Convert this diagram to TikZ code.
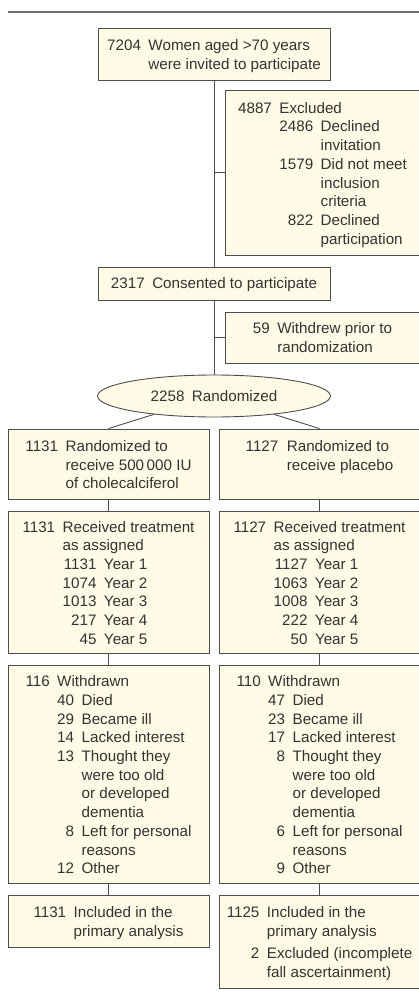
\documentclass[tikz,border=0pt]{standalone}
\usepackage{fontspec}
\setmainfont{Liberation Sans}
\usetikzlibrary{shapes.geometric}
\definecolor{boxfill}{HTML}{FFFBE6}
\definecolor{boxline}{HTML}{4D4D4D}
\definecolor{txtcol}{HTML}{333333}
\definecolor{rulecol}{HTML}{6E6E6E}
\newcommand{\gp}{\hspace{7.5pt}}
\newcommand{\dn}[2][2.5pt]{\raisebox{-#1}[\height][\depth]{#2}}
\begin{document}
\begin{tikzpicture}[x=1pt,y=-1pt,
  box/.style={draw=boxline, fill=boxfill, line width=0.9pt, inner sep=0pt,
    text=txtcol, font=\fontsize{15.2}{18.7}\selectfont},
  conn/.style={draw=boxline, line width=0.9pt}]
\useasboundingbox (0,0) rectangle (418,1000);
\fill[white] (0,0) rectangle (418,1000);
\coordinate (ruleL) at (8,12);
\coordinate (ruleR) at (420,12);
\draw[rulecol, line width=1.3pt] (ruleL) -- (ruleR);

\node[box, minimum width=232pt, minimum height=52pt] (b1) at (214,54)
  {\dn{\begin{tabular}{@{}r@{\gp}l@{}}7204 & Women aged >70 years\\ & were invited to participate\end{tabular}}};

\node[box, minimum width=195pt, minimum height=165pt] (excl) at (322.5,172.5)
  {\dn{\begin{tabular}{@{}r@{\gp}r@{\gp}l@{}}
   4887 & \multicolumn{2}{@{}l@{}}{Excluded}\\
   & 2486 & Declined\\
   & & invitation\\
   & 1579 & Did not meet\\
   & & inclusion\\
   & & criteria\\
   & 822 & Declined\\
   & & participation
   \end{tabular}}};

\node[box, minimum width=232pt, minimum height=33pt] (cons) at (214,283.5)
  {\dn[1pt]{\begin{tabular}{@{}r@{\gp}l@{}}2317 & Consented to participate\end{tabular}}};

\node[box, minimum width=195pt, minimum height=51pt] (wd) at (322.5,337.5)
  {\dn[1.5pt]{\begin{tabular}{@{}r@{\gp}l@{}}59 & Withdrew prior to\\ & randomization\end{tabular}}};

\node[box, ellipse, minimum width=233pt, minimum height=42pt] (rand) at (214,396)
  {\dn[0.5pt]{2258\gp Randomized}};

\node[box, minimum width=201pt, minimum height=70pt] (L1) at (108.5,464)
  {\dn{\begin{tabular}{@{}r@{\gp}l@{}}1131 & Randomized to\\ & receive 500\,000 IU\\ & of cholecalciferol\end{tabular}}};
\node[box, minimum width=201pt, minimum height=70pt] (R1) at (319.5,464)
  {\dn{\begin{tabular}{@{}r@{\hspace{8.5pt}}l@{}}1127 & Randomized to\\ & receive placebo\\ & \mbox{}\end{tabular}}};

\node[box, minimum width=201pt, minimum height=142pt] (L2) at (108.5,582)
  {\dn{\begin{tabular}{@{}r@{\gp}r@{\gp}l@{}}
   1131 & \multicolumn{2}{@{}l@{}}{Received treatment}\\
   & \multicolumn{2}{@{}l@{}}{as assigned}\\
   & 1131 & Year 1\\
   & 1074 & Year 2\\
   & 1013 & Year 3\\
   & 217 & Year 4\\
   & 45 & Year 5
   \end{tabular}}};
\node[box, minimum width=201pt, minimum height=142pt] (R2) at (319.5,582)
  {\dn{\begin{tabular}{@{}r@{\gp}r@{\gp}l@{}}
   1127 & \multicolumn{2}{@{}l@{}}{Received treatment}\\
   & \multicolumn{2}{@{}l@{}}{as assigned}\\
   & 1127 & Year 1\\
   & 1063 & Year 2\\
   & 1008 & Year 3\\
   & 222 & Year 4\\
   & 50 & Year 5
   \end{tabular}}};

\node[box, minimum width=201pt, minimum height=218pt] (L3) at (108.5,774)
  {\dn{\begin{tabular}{@{}r@{\gp}r@{\gp}l@{}}
   116 & \multicolumn{2}{@{}l@{}}{Withdrawn}\\
   & 40 & Died\\
   & 29 & Became ill\\
   & 14 & Lacked interest\\
   & 13 & Thought they\\
   & & were too old\\
   & & or developed\\
   & & dementia\\
   & 8 & Left for personal\\
   & & reasons\\
   & 12 & Other
   \end{tabular}}};
\node[box, minimum width=201pt, minimum height=218pt] (R3) at (319.5,774)
  {\dn{\begin{tabular}{@{}r@{\gp}r@{\gp}l@{}}
   110 & \multicolumn{2}{@{}l@{}}{Withdrawn}\\
   & 47 & Died\\
   & 23 & Became ill\\
   & 17 & Lacked interest\\
   & 8 & Thought they\\
   & & were too old\\
   & & or developed\\
   & & dementia\\
   & 6 & Left for personal\\
   & & reasons\\
   & 9 & Other
   \end{tabular}}};

\node[box, minimum width=201pt, minimum height=52pt] (L4) at (108.5,921)
  {\dn{\begin{tabular}{@{}r@{\gp}l@{}}1131 & Included in the\\ & primary analysis\end{tabular}}};
\node[box, minimum width=201pt, minimum height=93pt] (R4) at (319.5,941.5)
  {\dn{\begin{tabular}{@{}r@{\gp}l@{}}1125 & Included in the\\ & primary analysis\\[3.5pt] 2 & Excluded (incomplete\\ & fall ascertainment)\end{tabular}}};

% connectors
\draw[conn] (b1.south) -- (cons.north);
\draw[conn] (b1.south |- excl.west) -- (excl.west);
\draw[conn] (cons.south) -- (rand.north);
\draw[conn] (cons.south |- wd.west) -- (wd.west);
\draw[conn] (rand.197) -- (L1.north);
\draw[conn] (rand.343) -- (R1.north);
\draw[conn] (L1.south) -- (L2.north);
\draw[conn] (R1.south) -- (R2.north);
\draw[conn] (L2.south) -- (L3.north);
\draw[conn] (R2.south) -- (R3.north);
\draw[conn] (L3.south) -- (L4.north);
\draw[conn] (R3.south) -- (R4.north);
\end{tikzpicture}
\end{document}
